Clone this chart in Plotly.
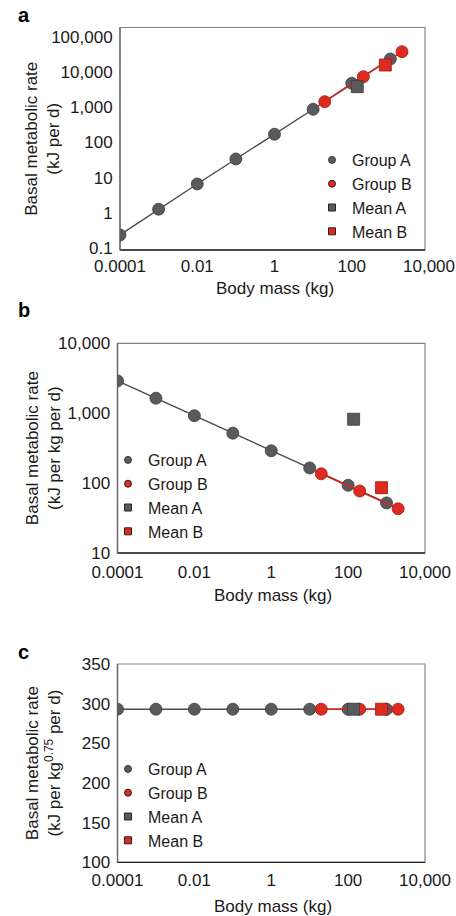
import plotly.graph_objects as go

# ---------------- data ----------------
mass_A = [0.0001, 0.001, 0.01, 0.1, 1, 10, 100, 1000]
mass_B = [20, 200, 2000]
mean_mass_A = [139]
mean_mass_B = [740]

bmr_A = [0.238, 1.28, 6.65, 34, 171, 873, 4770, 23300]             # kJ per d
bmr_B = [1435, 7330, 37500]
mean_bmr_A = [3820]
mean_bmr_B = [15700]

spec_A = [2900, 1640, 920, 518, 290, 165, 93, 52]                   # kJ per kg per d
spec_B = [136, 77, 43]
mean_spec_A = [820]
mean_spec_B = [86]

kl_A = [293, 293, 293, 293, 293, 293, 293, 293]                     # kJ per kg^0.75 per d
kl_B = [293, 293, 293]
mean_kl_A = [293]
mean_kl_B = [293]

x_tickvals = [0.0001, 0.01, 1, 100, 10000]
x_ticktext = ["0.0001", "0.01", "1", "100", "10,000"]
ya_tickvals = [0.1, 1, 10, 100, 1000, 10000, 100000]
ya_ticktext = ["0.1", "1", "10", "100", "1,000", "10,000", "100,000"]
yb_tickvals = [10, 100, 1000, 10000]
yb_ticktext = ["10", "100", "1,000", "10,000"]
yc_tickvals = [100, 150, 200, 250, 300, 350]
yc_ticktext = ["100", "150", "200", "250", "300", "350"]

legend_names = ["Group A", "Group B", "Mean A", "Mean B"]
panel_letters = ["a", "b", "c"]
y_titles = ["Basal metabolic rate<br>(kJ per d)",
            "Basal metabolic rate<br>(kJ per kg per d)",
            "Basal metabolic rate<br>(kJ per kg<sup>0.75</sup> per d)"]
x_title = "Body mass (kg)"

# ---------------- style ----------------
W, H = 456, 916
FONT = "Liberation Sans, Arial, Helvetica, sans-serif"
GRAY = "#595a5c"
GRAY_EDGE = "#3c3c3c"
GRAY_LINE = "#4a4a4a"
RED = "#de2a1f"
RED_EDGE = "#9c1a12"
RED_LINE = "#d8261c"
TXT = "#1a1a1a"

def px_x(v):
    return v / W

def px_y(v):
    return 1 - v / H

# axis areas in pixels: (left, right, top, bottom) and visible frame right edge
frames = [(120, 429, 27.5, 250), (117.5, 425, 343.3, 553), (117.5, 425, 664, 862.3)]
frame_right = [425, 425, 425]
xtitle_y = [288, 595, 906]
letter_y = [15, 310, 652]

fig = go.Figure()

panels = [
    (bmr_A, bmr_B, mean_bmr_A, mean_bmr_B),
    (spec_A, spec_B, mean_spec_A, mean_spec_B),
    (kl_A, kl_B, mean_kl_A, mean_kl_B),
]
legend_ids = ["legend", "legend2", "legend3"]

for i, (ya, yb, ma, mb) in enumerate(panels):
    xa = "x" if i == 0 else f"x{i+1}"
    yax = "y" if i == 0 else f"y{i+1}"
    fig.add_trace(go.Scatter(x=mass_A, y=ya, mode="lines+markers", xaxis=xa, yaxis=yax,
                             line=dict(color=GRAY_LINE, width=1.4),
                             marker=dict(size=12, color=GRAY, line=dict(color=GRAY_EDGE, width=0.8)),
                             showlegend=False, name=legend_names[0]))
    fig.add_trace(go.Scatter(x=mass_B, y=yb, mode="lines+markers", xaxis=xa, yaxis=yax,
                             line=dict(color=RED_LINE, width=1.5),
                             marker=dict(size=12, color=RED, line=dict(color=RED_EDGE, width=0.8)),
                             showlegend=False, name=legend_names[1]))
    fig.add_trace(go.Scatter(x=mean_mass_A, y=ma, mode="markers", xaxis=xa, yaxis=yax,
                             marker=dict(size=12, symbol="square", color=GRAY, line=dict(color=GRAY_EDGE, width=0.8)),
                             showlegend=False, name=legend_names[2]))
    fig.add_trace(go.Scatter(x=mean_mass_B, y=mb, mode="markers", xaxis=xa, yaxis=yax,
                             marker=dict(size=12, symbol="square", color=RED, line=dict(color=RED_EDGE, width=0.8)),
                             showlegend=False, name=legend_names[3]))
    # legend-only entries with small keys
    styles = [("circle", GRAY, GRAY_EDGE), ("circle", RED, "#222"), ("square", GRAY, "#222"), ("square", RED, "#222")]
    for name, (sym, col, edge) in zip(legend_names, styles):
        fig.add_trace(go.Scatter(x=[None], y=[None], mode="markers", xaxis=xa, yaxis=yax,
                                 marker=dict(size=7, symbol=sym, color=col, line=dict(color=edge, width=1)),
                                 name=name, legend=legend_ids[i], showlegend=True))

axis_common = dict(showgrid=False, zeroline=False, ticks="outside", ticklen=4, tickcolor="rgba(0,0,0,0)",
                   tickfont=dict(family=FONT, size=17, color=TXT), showline=False, automargin=False,
                   ticklabeloverflow="allow")

yranges = [[-1.05, 5.26], [1, 4], [100, 350]]
ytypes = ["log", "log", "linear"]
yvals = [(ya_tickvals, ya_ticktext), (yb_tickvals, yb_ticktext), (yc_tickvals, yc_ticktext)]
xticklen = [1, 3.5, 2]

layout = dict(width=W, height=H, margin=dict(l=0, r=0, t=0, b=0, autoexpand=False),
              template="none",
              paper_bgcolor="white", plot_bgcolor="rgba(0,0,0,0)",
              font=dict(family=FONT, size=17, color=TXT))

shapes = []
annotations = []
for i, (l, r, t, b) in enumerate(frames):
    sx = "" if i == 0 else str(i + 1)
    layout[f"xaxis{sx}"] = dict(axis_common, type="log", range=[-4, 4], domain=[px_x(l), px_x(r)],
                                anchor=f"y{sx}", tickvals=x_tickvals, ticktext=x_ticktext, ticklen=xticklen[i])
    layout[f"yaxis{sx}"] = dict(axis_common, type=ytypes[i], range=yranges[i], domain=[px_y(b), px_y(t)],
                                anchor=f"x{sx}", tickvals=yvals[i][0], ticktext=yvals[i][1], ticklen=3)
    fr = (frame_right[i] - l) / (r - l)
    # frame: light grey box, darker bottom axis line
    shapes.append(dict(type="rect", xref=f"x{sx} domain", yref=f"y{sx} domain", x0=0, x1=fr, y0=0, y1=1,
                       line=dict(color="#858585", width=1.2), layer="below"))
    shapes.append(dict(type="line", xref=f"x{sx} domain", yref=f"y{sx} domain", x0=0, x1=fr, y0=0, y1=0,
                       line=dict(color="#222222", width=1.3), layer="below"))
    shapes.append(dict(type="line", xref=f"x{sx} domain", yref=f"y{sx} domain", x0=0, x1=0, y0=0, y1=1,
                       line=dict(color="#666666", width=1.3), layer="below"))
    # y-axis title
    annotations.append(dict(text=y_titles[i], textangle=-90, x=px_x(43), y=px_y((t + b) / 2),
                            xref="paper", yref="paper", showarrow=False, xanchor="center", yanchor="middle",
                            font=dict(family=FONT, size=17, color=TXT)))
    # x-axis title
    annotations.append(dict(text=x_title, x=px_x((l + frame_right[i]) / 2 + 2), y=px_y(xtitle_y[i]),
                            xref="paper", yref="paper", showarrow=False, xanchor="center", yanchor="middle",
                            font=dict(family=FONT, size=17, color=TXT)))
    # panel letter
    annotations.append(dict(text=f"<b>{panel_letters[i]}</b>", x=px_x(16), y=px_y(letter_y[i]),
                            xref="paper", yref="paper", showarrow=False, xanchor="left", yanchor="middle",
                            font=dict(family=FONT, size=20, color="#000")))

leg_common = dict(bgcolor="rgba(0,0,0,0)", borderwidth=0, font=dict(family=FONT, size=16, color=TXT),
                  xanchor="left", yanchor="top", tracegroupgap=0, itemsizing="trace")
layout["legend"] = dict(leg_common, x=px_x(312), y=px_y(143))
layout["legend2"] = dict(leg_common, x=px_x(108), y=px_y(443))
layout["legend3"] = dict(leg_common, x=px_x(108), y=px_y(752))

layout["shapes"] = shapes
layout["annotations"] = annotations
fig.update_layout(**layout)

fig.write_html("out.html", config={"displayModeBar": False},
               post_script="document.body.style.margin='0px';document.body.style.overflow='hidden';")
